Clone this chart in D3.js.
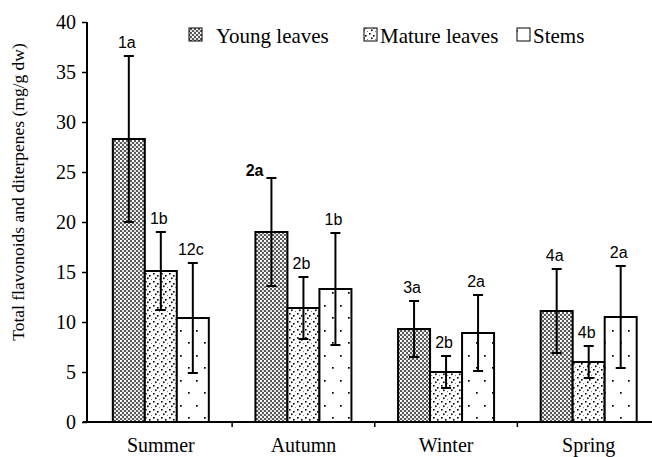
<!DOCTYPE html>
<html><head><meta charset="utf-8">
<script src="https://cdn.jsdelivr.net/npm/d3@7"></script>
<style>html,body{margin:0;padding:0;background:#fff;}</style>
</head><body>
<svg id="chart" width="652" height="457"></svg>
<script>
const seasons = ["Summer", "Autumn", "Winter", "Spring"];
const seriesNames = ["Young leaves", "Mature leaves", "Stems"];
const youngLeaves = [28.3, 19.0, 9.3, 11.1];
const matureLeaves = [15.1, 11.4, 5.0, 6.0];
const stems = [10.4, 13.3, 8.9, 10.5];
const youngErr = [8.3, 5.4, 2.8, 4.2];
const matureErr = [3.9, 3.1, 1.6, 1.6];
const stemsErr = [5.5, 5.6, 3.8, 5.1];
const youngLabels = ["1a", "2a", "3a", "4a"];
const matureLabels = ["1b", "2b", "2b", "4b"];
const stemsLabels = ["12c", "1b", "2a", "2a"];
const yTicks = [0, 5, 10, 15, 20, 25, 30, 35, 40];
const yTitle = "Total flavonoids and diterpenes (mg/g dw)";

const values = [youngLeaves, matureLeaves, stems];
const errors = [youngErr, matureErr, stemsErr];
const labels = [youngLabels, matureLabels, stemsLabels];

const svg = d3.select("#chart");
const mLeft = 87, mTop = 22, mBottom = 422;

const defs = svg.append("defs");
// Young leaves: dense crosshatch
const p0 = defs.append("pattern").attr("id", "pat0").attr("patternUnits", "userSpaceOnUse")
  .attr("width", 4).attr("height", 4);
p0.append("rect").attr("width", 4).attr("height", 4).attr("fill", "#5a5a5a");
p0.append("rect").attr("x", 0).attr("y", 0).attr("width", 2).attr("height", 2).attr("fill", "#fff");
p0.append("rect").attr("x", 2).attr("y", 2).attr("width", 2).attr("height", 2).attr("fill", "#e0e0e0");
// Mature leaves: dense dots
const p1 = defs.append("pattern").attr("id", "pat1").attr("patternUnits", "userSpaceOnUse")
  .attr("width", 8).attr("height", 8);
p1.append("rect").attr("width", 8).attr("height", 8).attr("fill", "#fff");
[[1, 1], [5, 3], [3, 5.5], [7, 7.5]].forEach(d =>
  p1.append("rect").attr("x", d[0]).attr("y", d[1]).attr("width", 1.6).attr("height", 1.6).attr("fill", "#000"));
// Stems: sparse dots
const p2 = defs.append("pattern").attr("id", "pat2").attr("patternUnits", "userSpaceOnUse")
  .attr("width", 16).attr("height", 25);
p2.append("rect").attr("width", 16).attr("height", 25).attr("fill", "#fff");
[[4, 5], [12, 17]].forEach(d =>
  p2.append("rect").attr("x", d[0]).attr("y", d[1]).attr("width", 1.7).attr("height", 1.7).attr("fill", "#000"));

const x = d3.scaleBand().domain(seasons).range([89.5, 660]).paddingInner(0).paddingOuter(0);
const xs = d3.scaleBand().domain(d3.range(3)).range([0, 96]);
const y = d3.scaleLinear().domain([0, 40]).range([mBottom, mTop]);

const groupOffset = (x.bandwidth() - 96) / 2;

// bars
values.forEach((arr, si) => {
  svg.append("g").selectAll("rect").data(arr).join("rect")
    .attr("x", (d, i) => x(seasons[i]) + groupOffset + xs(si))
    .attr("y", d => y(d))
    .attr("width", xs.bandwidth())
    .attr("height", d => y(0) - y(d))
    .attr("fill", `url(#pat${si})`)
    .attr("stroke", "#000").attr("stroke-width", 2);
});

// error bars + labels
values.forEach((arr, si) => {
  arr.forEach((v, i) => {
    const cx = x(seasons[i]) + groupOffset + xs(si) + xs.bandwidth() / 2;
    const e = errors[si][i];
    const g = svg.append("g").attr("stroke", "#000").attr("stroke-width", 2);
    g.append("line").attr("x1", cx).attr("x2", cx).attr("y1", y(v + e)).attr("y2", y(v - e));
    g.append("line").attr("x1", cx - 5).attr("x2", cx + 5).attr("y1", y(v + e)).attr("y2", y(v + e));
    g.append("line").attr("x1", cx - 5).attr("x2", cx + 5).attr("y1", y(v - e)).attr("y2", y(v - e));
    const special = (si === 0 && i === 1);
    svg.append("text")
      .attr("x", special ? cx - 8 : cx - 2)
      .attr("y", special ? y(v + e) - 2 : y(v + e) - 8)
      .attr("text-anchor", special ? "end" : "middle")
      .attr("font-family", "Liberation Sans, Arial, sans-serif")
      .attr("font-size", 16)
      .attr("font-weight", special ? "bold" : "normal")
      .text(labels[si][i]);
  });
});

// y axis
const yAxis = svg.append("g").attr("transform", `translate(${mLeft},0)`)
  .call(d3.axisLeft(y).tickValues(yTicks).tickSize(5).tickPadding(6).tickFormat(d3.format("d")));
yAxis.select(".domain").attr("stroke", "#000").attr("stroke-width", 2).attr("d", `M0,${mTop}V${mBottom}`);
yAxis.selectAll(".tick line").attr("stroke", "#000").attr("stroke-width", 1.5);
yAxis.selectAll("text").attr("font-family", "Liberation Serif, Times New Roman, serif")
  .attr("font-size", 20).attr("fill", "#000");

// x axis
const xAxisG = svg.append("g").attr("transform", `translate(0,${mBottom})`);
xAxisG.append("line").attr("x1", mLeft - 4).attr("x2", 652).attr("y1", 0).attr("y2", 0)
  .attr("stroke", "#000").attr("stroke-width", 2);
xAxisG.selectAll("line.tk").data(seasons.slice(1)).join("line").attr("class", "tk")
  .attr("x1", d => x(d)).attr("x2", d => x(d)).attr("y1", 0).attr("y2", 5)
  .attr("stroke", "#000").attr("stroke-width", 1.5);
xAxisG.selectAll("text").data(seasons).join("text")
  .attr("x", d => x(d) + x.bandwidth() / 2)
  .attr("y", 30)
  .attr("text-anchor", "middle")
  .attr("font-family", "Liberation Serif, Times New Roman, serif")
  .attr("font-size", 20)
  .text(d => d);

// y title
svg.append("text")
  .attr("transform", `translate(24,192) rotate(-90)`)
  .attr("text-anchor", "middle")
  .attr("font-family", "Liberation Serif, Times New Roman, serif")
  .attr("font-size", 17.5)
  .text(yTitle);

// legend
const legendX = [189, 364, 517];
const legend = svg.append("g");
seriesNames.forEach((name, si) => {
  legend.append("rect").attr("x", legendX[si]).attr("y", 28).attr("width", 13).attr("height", 13)
    .attr("fill", `url(#pat${si})`).attr("stroke", "#000").attr("stroke-width", 1);
  legend.append("text").attr("x", legendX[si] + (si === 0 ? 27 : 16)).attr("y", 43)
    .attr("font-family", "Liberation Serif, Times New Roman, serif")
    .attr("font-size", 21)
    .text(name);
});
</script>
</body></html>
